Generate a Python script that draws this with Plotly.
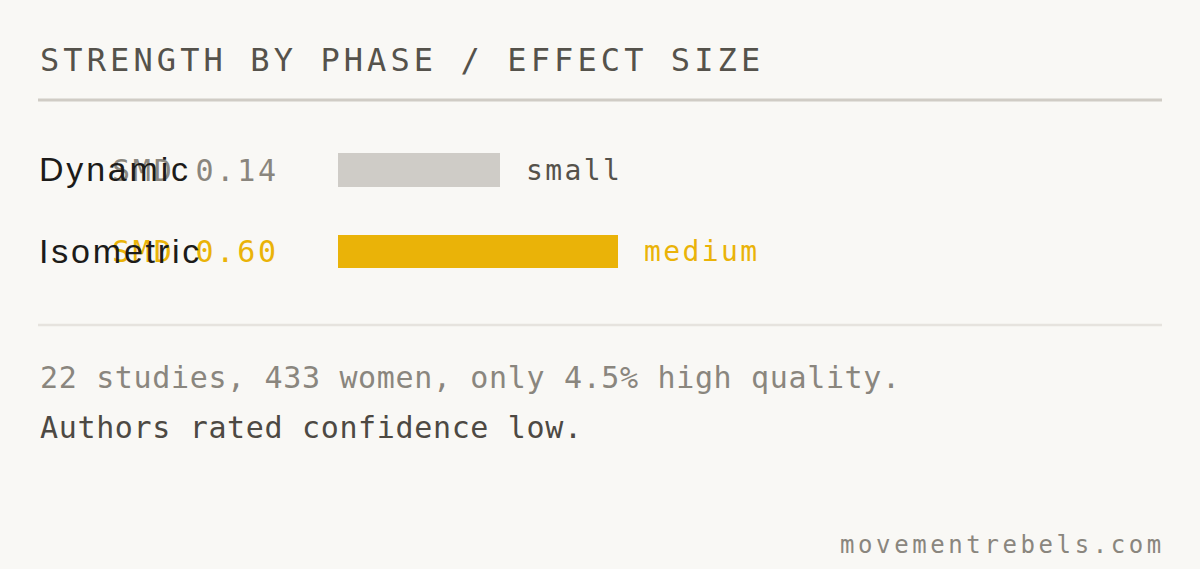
import plotly.graph_objects as go

# data
phases = ["Dynamic", "Isometric"]
smd = [0.14, 0.60]
bar_fill = [0.405, 0.70]          # share of the bar track
effect = ["small", "medium"]
bar_colors = ["#cfccc7", "#eab308"]
smd_colors = ["#8a867e", "#eab308"]
effect_colors = ["#55524b", "#eab308"]

title = "STRENGTH BY PHASE / EFFECT SIZE"
notes = ["22 studies, 433 women, only 4.5% high quality.", "Authors rated confidence low."]
note_colors = ["#8a867e", "#4d4943"]
source = "movementrebels.com"

W, H = 1200, 569
BG = "#f9f8f5"
MONO = "DejaVu Sans Mono"
SANS = "Liberation Sans"


def spaced(text, px):
    return f'<span style="letter-spacing:{px}px">{text}</span>'


def px_x(p):
    return p / W


def px_y(p):
    return 1 - p / H


fig = go.Figure(
    go.Bar(
        x=bar_fill,
        y=phases,
        orientation="h",
        marker=dict(color=bar_colors, line=dict(width=0)),
        width=0.417,
        hoverinfo="skip",
    )
)

# bar track starts at 338px and is 400px long; rows are 81.5px apart
row0, step = 170, 81.5
fig.update_xaxes(range=[-338 / 400, (W - 338) / 400], visible=False, fixedrange=True)
fig.update_yaxes(
    type="category",
    categoryorder="array",
    categoryarray=phases,
    range=[(H - row0) / step, -row0 / step],
    visible=False,
    fixedrange=True,
)

ann = []
# title
ann.append(dict(text=spaced(title, 4.1), x=px_x(38), y=px_y(60), xref="paper", yref="paper",
                xanchor="left", yanchor="middle", showarrow=False,
                font=dict(family=MONO, size=32, color="#55524b")))

for i, ph in enumerate(phases):
    ann.append(dict(text=spaced(f"SMD {smd[i]:.2f}", 2.8), x=px_x(110), y=ph, xref="paper", yref="y",
                    xanchor="left", yanchor="middle", yshift=0, showarrow=False,
                    font=dict(family=MONO, size=30, color=smd_colors[i])))
for i, ph in enumerate(phases):
    ann.append(dict(text=spaced(ph, 2.8), x=px_x(37), y=ph, xref="paper", yref="y",
                    xanchor="left", yanchor="middle", yshift=1, showarrow=False,
                    font=dict(family=SANS, size=34, color="#1c1b19")))
    ann.append(dict(text=spaced(effect[i], 2.4), x=bar_fill[i], y=ph, xref="x", yref="y",
                    xanchor="left", yanchor="middle", xshift=24, yshift=0, showarrow=False,
                    font=dict(family=MONO, size=28, color=effect_colors[i])))

for i, (line, c) in enumerate(zip(notes, note_colors)):
    ann.append(dict(text=spaced(line, 0.65), x=px_x(38), y=px_y(377.5 + 50 * i), xref="paper", yref="paper",
                    xanchor="left", yanchor="middle", showarrow=False,
                    font=dict(family=MONO, size=30, color=c)))

ann.append(dict(text=spaced(source, 3.6), x=px_x(838), y=px_y(545), xref="paper", yref="paper",
                xanchor="left", yanchor="middle", showarrow=False,
                font=dict(family=MONO, size=24, color="#8a867e")))

shapes = [
    dict(type="line", xref="paper", yref="paper", x0=px_x(38), x1=px_x(1162),
         y0=px_y(100), y1=px_y(100), line=dict(color="#d0ccc5", width=3)),
    dict(type="line", xref="paper", yref="paper", x0=px_x(38), x1=px_x(1162),
         y0=px_y(325), y1=px_y(325), line=dict(color="#e6e3de", width=2.5)),
]

fig.update_layout(
    width=W,
    height=H,
    margin=dict(l=0, r=0, t=0, b=0),
    paper_bgcolor=BG,
    plot_bgcolor=BG,
    showlegend=False,
    annotations=ann,
    shapes=shapes,
    bargap=0,
)

# page body margin would push the figure 8px off the window corner
fig.write_html(
    "out.html",
    config={"displayModeBar": False},
    post_script="document.body.style.margin='0';document.body.style.background='#f9f8f5';",
)
